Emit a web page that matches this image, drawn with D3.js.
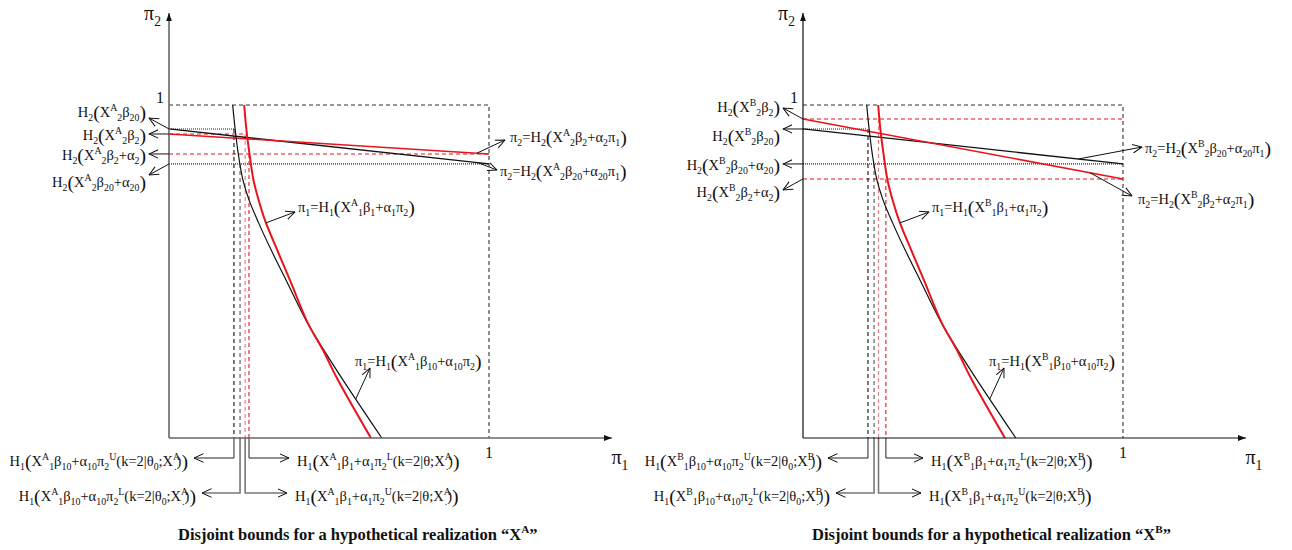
<!DOCTYPE html>
<html>
<head>
<meta charset="utf-8">
<script src="https://cdn.jsdelivr.net/npm/d3@7"></script>
<style>
  body { margin: 0; background: #fff; }
  text { font-family: "Liberation Serif", "Times New Roman", serif; fill: #111; }
</style>
</head>
<body>
<script>
// ---- data (unit square: pi1 across, pi2 up) ----

// pi1 = H1(...) curves, [pi1, pi2]; same shape in both panels
const curveB10 = [[0.199, 1], [0.207, 0.925], [0.217, 0.850], [0.231, 0.775], [0.250, 0.715],
                  [0.280, 0.646], [0.319, 0.565], [0.366, 0.474], [0.433, 0.345], [0.484, 0.264],
                  [0.544, 0.174], [0.665, 0]];
const curveB1  = [[0.235, 1], [0.242, 0.925], [0.252, 0.850], [0.264, 0.775], [0.280, 0.715],
                  [0.303, 0.646], [0.338, 0.565], [0.378, 0.474], [0.434, 0.345], [0.481, 0.264],
                  [0.528, 0.174], [0.631, 0]];

// pi2 = H2(...) lines, value at pi1=0 and pi1=1
const h2LineA20 = [[0, 0.928], [1, 0.823]];
const h2LineA2  = [[0, 0.913], [1, 0.853]];
const h2LineB20 = [[0, 0.928], [1, 0.823]];
const h2LineB2  = [[0, 0.958], [1, 0.778]];

// horizontal reference levels: which line, pi2, how far right (pi1)
const levelsA = [
  {kind: "b20", pi2: 0.928, to: 0.203},
  {kind: "b20", pi2: 0.823, to: 1},
  {kind: "b2",  pi2: 0.913, to: 0.240},
  {kind: "b2",  pi2: 0.853, to: 1}
];
const levelsB = [
  {kind: "b20", pi2: 0.928, to: 0.198},
  {kind: "b20", pi2: 0.823, to: 1},
  {kind: "b2",  pi2: 0.958, to: 1},
  {kind: "b2",  pi2: 0.778, to: 1}
];

// pi1 bounds: position and the pi2 level they drop from
const boundsA = [
  {id: "b10U", pi1: 0.203, from: 0.928},
  {id: "b10L", pi1: 0.222, from: 0.823},
  {id: "b1U",  pi1: 0.238, from: 0.913},
  {id: "b1L",  pi1: 0.250, from: 0.853}
];
const boundsB = [
  {id: "b10U", pi1: 0.203, from: 0.928},
  {id: "b10L", pi1: 0.222, from: 0.823},
  {id: "b1U",  pi1: 0.236, from: 0.958},
  {id: "b1L",  pi1: 0.259, from: 0.778}
];

// labels on the left of the pi2 axis (top to bottom)
const leftLabelsA = [
  {txt: "H_{2}[X^{A}_{2}β_{20}]", pi2: 0.928},
  {txt: "H_{2}[X^{A}_{2}β_{2}]", pi2: 0.913},
  {txt: "H_{2}[X^{A}_{2}β_{2}+α_{2}]", pi2: 0.853},
  {txt: "H_{2}[X^{A}_{2}β_{20}+α_{20}]", pi2: 0.823}
];
const leftLabelsB = [
  {txt: "H_{2}[X^{B}_{2}β_{2}]", pi2: 0.958},
  {txt: "H_{2}[X^{B}_{2}β_{20}]", pi2: 0.928},
  {txt: "H_{2}[X^{B}_{2}β_{20}+α_{20}]", pi2: 0.823},
  {txt: "H_{2}[X^{B}_{2}β_{2}+α_{2}]", pi2: 0.778}
];

// labels of the pi2 lines, attached at pi1 = at
const rightLabelsA = [
  {txt: "π_{2}=H_{2}[X^{A}_{2}β_{2}+α_{2}π_{1}]", kind: "b2", at: 0.962},
  {txt: "π_{2}=H_{2}[X^{A}_{2}β_{20}+α_{20}π_{1}]", kind: "b20", at: 0.966}
];
const rightLabelsB = [
  {txt: "π_{2}=H_{2}[X^{B}_{2}β_{20}+α_{20}π_{1}]", kind: "b20", at: 0.86},
  {txt: "π_{2}=H_{2}[X^{B}_{2}β_{2}+α_{2}π_{1}]", kind: "b2", at: 0.897}
];

// labels of the pi1 curves, attached at pi2 = at
const curveLabels = [
  {txt: "π_{1}=H_{1}[X^{R}_{1}β_{1}+α_{1}π_{2}]", kind: "b1", at: 0.646},
  {txt: "π_{1}=H_{1}[X^{R}_{1}β_{10}+α_{10}π_{2}]", kind: "b10", at: 0.117}
];

// labels of the pi1 bounds
const boundLabels = {
  b10U: "H_{1}[X^{R}_{1}β_{10}+α_{10}π_{2}^{U}(k=2|θ_{0};X^{R}_{.})]",
  b10L: "H_{1}[X^{R}_{1}β_{10}+α_{10}π_{2}^{L}(k=2|θ_{0};X^{R}_{.})]",
  b1L:  "H_{1}[X^{R}_{1}β_{1}+α_{1}π_{2}^{L}(k=2|θ;X^{R}_{.})]",
  b1U:  "H_{1}[X^{R}_{1}β_{1}+α_{1}π_{2}^{U}(k=2|θ;X^{R}_{.})]"
};

const captionTxt = "Disjoint bounds for a hypothetical realization  “X^{R}”";

// ---- layout ----
const W = 1292, H = 550;
const y0 = 438, unitW = 320, unitH = 333;
const xAxisEnd = 1.384, yAxisEnd = 1.276;
const fs = 14.5;
const RED = "#e8141b";

const svg = d3.select("body").append("svg").attr("width", W).attr("height", H);
const defs = svg.append("defs");
defs.append("marker").attr("id", "open")
  .attr("viewBox", "0 -5 10 10").attr("refX", 9.5).attr("refY", 0)
  .attr("markerWidth", 10).attr("markerHeight", 10)
  .attr("markerUnits", "userSpaceOnUse").attr("orient", "auto")
  .append("path").attr("d", "M0,-4.3L9.5,0L0,4.3")
  .attr("fill", "none").attr("stroke", "#111").attr("stroke-width", 1);
defs.append("marker").attr("id", "solid")
  .attr("viewBox", "0 -4 10 8").attr("refX", 9).attr("refY", 0)
  .attr("markerWidth", 9).attr("markerHeight", 8)
  .attr("markerUnits", "userSpaceOnUse").attr("orient", "auto")
  .append("path").attr("d", "M0,-3.3L9,0L0,3.3Z").attr("fill", "#111");

// tiny markup: _{sub} ^{sup} [ ] = big parens
function rich(g, str, x, y, anchor, size) {
  const t = g.append("text").attr("x", x).attr("y", y)
    .attr("text-anchor", anchor).attr("font-size", size);
  const toks = str.match(/_\{[^}]*\}|\^\{[^}]*\}|\[|\]|[^_^\[\]]+/g);
  let off = 0;
  toks.forEach(tok => {
    let txt = tok, shift = 0, f = size, dx = 0;
    if (tok[0] === "_") {
      txt = tok.slice(2, -1); shift = 0.28 * size; f = 0.68 * size;
      if (txt === ".") dx = -0.42 * size;
    } else if (tok[0] === "^") {
      txt = tok.slice(2, -1); shift = -0.42 * size; f = 0.68 * size;
    } else if (tok === "[" || tok === "]") {
      txt = tok === "[" ? "(" : ")"; shift = 0.12 * size; f = 1.36 * size;
    }
    const ts = t.append("tspan").attr("dy", shift - off).attr("font-size", f).text(txt);
    if (dx) ts.attr("dx", dx);
    off = shift;
  });
  return t;
}

function interpX(curve, pi2) {
  for (let i = 0; i < curve.length - 1; i++) {
    const a = curve[i], b = curve[i + 1];
    if (pi2 <= a[1] && pi2 >= b[1]) return a[0] + (b[0] - a[0]) * (a[1] - pi2) / (a[1] - b[1]);
  }
  return curve[curve.length - 1][0];
}

const boundStyle = {
  b10U: {stroke: "#111", lead: "#222", lw: 1, ly: 458, tip: 25, side: "left"},
  b10L: {stroke: "#555", lead: "#777", lw: 1.6, ly: 493, tip: 33, side: "left"},
  b1U:  {stroke: "#f07878", lead: "#777", lw: 1.6, ly: 493, tip: 118, side: "right"},
  b1L:  {stroke: RED, lead: "#222", lw: 1, ly: 458, tip: 120, side: "right"}
};

const panels = [
  {tag: "A", x0: 169, axis: "#666", aw: 1.6,
   b20: h2LineA20, b2: h2LineA2, levels: levelsA, bounds: boundsA,
   left: leftLabelsA, leftY: [117, 140, 160, 187], leftTip: [118, 134, 154, 175],
   right: rightLabelsA, rightTip: [[336, 140], [328, 170]], rightText: [[341, 142], [331, 176]]},
  {tag: "B", x0: 803, axis: "#111", aw: 1.2,
   b20: h2LineB20, b2: h2LineB2, levels: levelsB, bounds: boundsB,
   left: leftLabelsB, leftY: [112, 141, 170, 197], leftTip: [108, 129, 164, 190],
   right: rightLabelsB, rightTip: [[339, 147], [329, 196]], rightText: [[342, 153], [335, 204]]}
];

panels.forEach(p => {
  const g = svg.append("g");
  const x = d3.scaleLinear().domain([0, 1]).range([p.x0, p.x0 + unitW]);
  const y = d3.scaleLinear().domain([0, 1]).range([y0, y0 - unitH]);
  const line = d3.line().x(d => x(d[0])).y(d => y(d[1]));
  const curve = d3.line().x(d => x(d[0])).y(d => y(d[1])).curve(d3.curveCatmullRom.alpha(0.5));
  const sub = s => s.replace(/\{R\}/g, "{" + p.tag + "}");

  // unit box
  g.append("path").attr("d", `M${x(0)},${y(1)}H${x(1)}V${y(0)}`)
    .attr("fill", "none").attr("stroke", "#333").attr("stroke-width", 1.1)
    .attr("stroke-dasharray", "4,3");

  // reference levels
  p.levels.forEach(l => {
    g.append("line").attr("x1", x(0)).attr("x2", x(l.to)).attr("y1", y(l.pi2)).attr("y2", y(l.pi2))
      .attr("stroke", l.kind === "b20" ? "#222" : RED)
      .attr("stroke-width", l.kind === "b20" ? 1.2 : 1.1)
      .attr("stroke-dasharray", l.kind === "b20" ? "1,1" : "4,3");
  });

  // bounds: dashed verticals + leaders below the axis
  p.bounds.forEach(b => {
    const s = boundStyle[b.id];
    const bx = x(b.pi1);
    g.append("line").attr("x1", bx).attr("x2", bx).attr("y1", y(b.from)).attr("y2", y(0))
      .attr("stroke", s.stroke).attr("stroke-width", 1.1).attr("stroke-dasharray", "4,3");
    const tipX = p.x0 + s.tip;
    g.append("path").attr("d", `M${bx},${y(0)}V${s.ly}H${tipX}`)
      .attr("fill", "none").attr("stroke", s.lead).attr("stroke-width", s.lw)
      .attr("marker-end", "url(#open)");
    if (s.side === "left") rich(g, sub(boundLabels[b.id]), tipX - 6, s.ly + 8, "end", fs);
    else rich(g, sub(boundLabels[b.id]), tipX + 8, s.ly + 8, "start", fs);
  });

  // pi2 lines
  g.append("path").attr("d", line(p.b20)).attr("fill", "none").attr("stroke", "#111").attr("stroke-width", 1.3);
  g.append("path").attr("d", line(p.b2)).attr("fill", "none").attr("stroke", RED).attr("stroke-width", 1.5);

  // pi1 curves
  g.append("path").attr("d", curve(curveB10)).attr("fill", "none").attr("stroke", "#111").attr("stroke-width", 1.2);
  g.append("path").attr("d", curve(curveB1)).attr("fill", "none").attr("stroke", RED).attr("stroke-width", 2);

  // axes
  g.append("line").attr("x1", x(0)).attr("y1", y(0)).attr("x2", x(xAxisEnd)).attr("y2", y(0))
    .attr("stroke", p.axis).attr("stroke-width", p.aw).attr("marker-end", "url(#solid)");
  g.append("line").attr("x1", x(0)).attr("y1", y(0)).attr("x2", x(0)).attr("y2", y(yAxisEnd))
    .attr("stroke", p.axis).attr("stroke-width", p.aw).attr("marker-end", "url(#solid)");
  g.append("text").attr("x", x(0) - 5).attr("y", y(1) - 2).attr("text-anchor", "end").attr("font-size", 16).text("1");
  g.append("text").attr("x", x(1)).attr("y", y(0) + 20).attr("text-anchor", "middle").attr("font-size", 16).text("1");
  rich(g, "π_{2}", x(0) - 8, 20, "end", 20);
  rich(g, "π_{1}", x(xAxisEnd) + 8, y(0) + 26, "middle", 20);

  // left labels
  p.left.forEach((l, i) => {
    g.append("line").attr("x1", x(0)).attr("y1", y(l.pi2)).attr("x2", x(0) - 20).attr("y2", p.leftTip[i])
      .attr("stroke", "#111").attr("stroke-width", 1).attr("marker-end", "url(#open)");
    rich(g, l.txt, x(0) - 23, p.leftY[i], "end", fs);
  });

  // right labels (pi2 lines)
  p.right.forEach((l, i) => {
    const pts = p[l.kind];
    const ly = pts[0][1] + (pts[1][1] - pts[0][1]) * l.at;
    g.append("line").attr("x1", x(l.at)).attr("y1", y(ly))
      .attr("x2", p.x0 + p.rightTip[i][0]).attr("y2", p.rightTip[i][1])
      .attr("stroke", "#111").attr("stroke-width", 1).attr("marker-end", "url(#open)");
    rich(g, sub(l.txt), p.x0 + p.rightText[i][0], p.rightText[i][1], "start", fs);
  });

  // curve labels
  const cl = [{tip: [126, 212], t: [129, 212]}, {tip: [201, 368], t: [186, 366]}];
  curveLabels.forEach((l, i) => {
    const c = l.kind === "b1" ? curveB1 : curveB10;
    g.append("line").attr("x1", x(interpX(c, l.at))).attr("y1", y(l.at))
      .attr("x2", p.x0 + cl[i].tip[0]).attr("y2", cl[i].tip[1])
      .attr("stroke", "#111").attr("stroke-width", 1).attr("marker-end", "url(#open)");
    rich(g, sub(l.txt), p.x0 + cl[i].t[0], cl[i].t[1], "start", fs);
  });

  // caption
  rich(g, sub(captionTxt), p.x0 + 9, 540, "start", 16.5).attr("font-weight", "bold");
});
</script>
</body>
</html>
